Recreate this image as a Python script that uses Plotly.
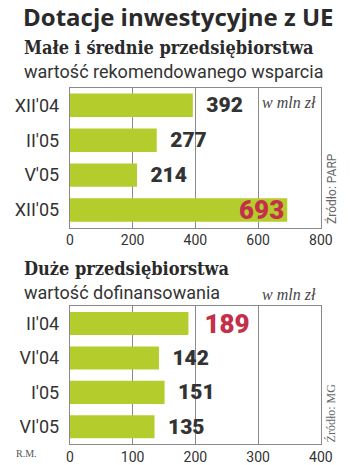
import plotly.graph_objects as go

# Data
title_main = "Dotacje inwestycyjne z UE"
sme_title = "Małe i średnie przedsiębiorstwa"
sme_sub = "wartość rekomendowanego wsparcia"
sme_cats = ["XII'04", "II'05", "V'05", "XII'05"]
sme_vals = [392, 277, 214, 693]
sme_ticks = [0, 200, 400, 600, 800]

big_title = "Duże przedsiębiorstwa"
big_sub = "wartość dofinansowania"
big_cats = ["II'04", "VI'04", "I'05", "VI'05"]
big_vals = [189, 142, 151, 135]
big_ticks = [0, 100, 200, 300, 400]

unit = "w mln zł"
src1 = "Źródło: PARP"
src2 = "Źródło: MG"
author = "R.M."

BAR = "#b5cd2c"
DARK = "#333333"
RED = "#c42f4a"
GRID = "#8a8a8a"

W, H = 350, 465

def py(px):
    return 1 - px / H

def px_x(px):
    return px / W

def label_colors(vals):
    m = max(vals)
    return [RED if v == m else DARK for v in vals]

def label_sizes(vals):
    m = max(vals)
    return [26 if v == m else 21 for v in vals]

def label_texts(vals, inside_max=False):
    m = max(vals)
    return [str(v) if (inside_max and v == m) else "\u00a0\u00a0" + str(v) for v in vals]

fig = go.Figure()

# top chart
fig.add_trace(go.Bar(
    x=sme_vals, y=sme_cats, orientation="h", marker=dict(color=BAR, line=dict(width=0)),
    text=label_texts(sme_vals, inside_max=True),
    textposition=["inside" if v == max(sme_vals) else "outside" for v in sme_vals],
    insidetextanchor="end", constraintext="none",
    textfont=dict(family="Roboto", size=label_sizes(sme_vals), weight=900, color=label_colors(sme_vals)),
    cliponaxis=False, xaxis="x", yaxis="y", width=0.67,
))
fig.add_trace(go.Bar(
    x=big_vals, y=big_cats, orientation="h", marker=dict(color=BAR, line=dict(width=0)),
    text=label_texts(big_vals),
    textposition="outside", constraintext="none",
    textfont=dict(family="Roboto", size=label_sizes(big_vals), weight=900, color=label_colors(big_vals)),
    cliponaxis=False, xaxis="x2", yaxis="y2", width=0.67,
))

xdom = [px_x(69), px_x(332)]
common_x = dict(showgrid=True, gridcolor=GRID, gridwidth=1, zeroline=False,
                showline=True, linecolor=GRID, linewidth=1, mirror=True,
                ticks="", tickfont=dict(family="Roboto", size=14, color=DARK),
                fixedrange=True)
common_y = dict(autorange="reversed", showgrid=False, showline=True, linecolor=GRID,
                linewidth=1, mirror=True, ticks="", ticklabelstandoff=6,
                tickfont=dict(family="Roboto", size=18, color=DARK), fixedrange=True)

fig.update_layout(
    width=W, height=H, margin=dict(l=0, r=0, t=0, b=0),
    paper_bgcolor="white", plot_bgcolor="white", showlegend=False,
    bargap=0.33,
    xaxis=dict(domain=xdom, range=[sme_ticks[0], sme_ticks[-1]], tickvals=sme_ticks,
               anchor="y", **common_x),
    yaxis=dict(domain=[py(228), py(88)], anchor="x", **common_y),
    xaxis2=dict(domain=xdom, range=[big_ticks[0], big_ticks[-1]], tickvals=big_ticks,
                anchor="y2", **common_x),
    yaxis2=dict(domain=[py(445), py(307)], anchor="x2", **common_y),
)

ann = []
def A(text, x, y, size, family, color=DARK, xanchor="left", yanchor="middle", textangle=0, weight=None, style=None):
    f = dict(family=family, size=size, color=color)
    if weight:
        f["weight"] = weight
    if style:
        f["style"] = style
    ann.append(dict(text=text, x=x / W, y=py(y), xref="paper", yref="paper", showarrow=False,
                    xanchor=xanchor, yanchor=yanchor, font=f, textangle=textangle))

A(title_main, 18, 17, 24, "Open Sans", color="#2a2a2a", weight=700)
A(sme_title, 19, 48, 18, "DejaVu Serif Condensed, DejaVu Serif", color="#2a2a2a", weight=700)
A(sme_sub, 19, 72, 18, "Roboto", color="#333333")
A(big_title, 19, 269, 18, "DejaVu Serif Condensed, DejaVu Serif", color="#2a2a2a", weight=700)
A(big_sub, 19, 293, 18, "Roboto", color="#333333")
A(unit, 329, 103, 16, "Liberation Serif", color="#444444", xanchor="right", style="italic")
A(unit, 329, 295, 16, "Liberation Serif", color="#444444", xanchor="right", style="italic")
A(src1, 343, 189, 12, "Roboto", color="#666666", xanchor="center", textangle=-90)
A(src2, 343, 414, 12, "Liberation Serif", color="#666666", xanchor="center", textangle=-90)
A(author, 11, 454, 10, "Liberation Serif", color="#555555")

fig.update_layout(annotations=ann)
fig.write_html("out.html")
